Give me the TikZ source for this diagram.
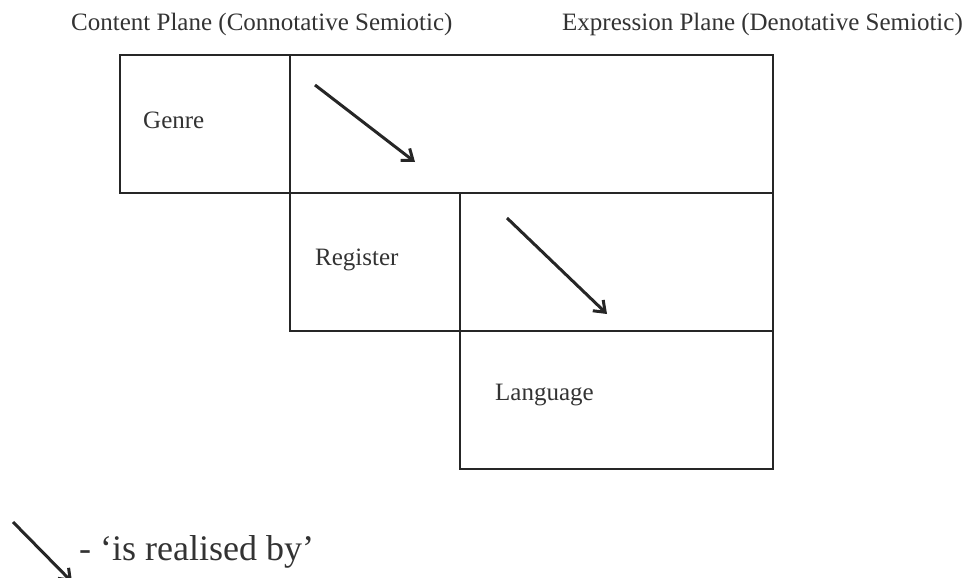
\documentclass[tikz,border=0pt]{standalone}
\usepackage{fontspec}
\setmainfont{Liberation Serif}
\usetikzlibrary{arrows.meta}
\begin{document}
\begin{tikzpicture}[x=1pt,y=-1pt,
  cell/.style={draw=black!85, line width=2pt},
  lbl/.style={font=\fontsize{25}{28}\selectfont, anchor=base west, inner sep=0pt, text=black!80},
  realise/.style={draw=black!85, line width=3pt, -{Straight Barb[length=10pt,width=15pt,line width=3pt]}}]
\useasboundingbox (0,0) rectangle (969,578);
% planes
\node[lbl] (content) at (71,31) {Content Plane (Connotative Semiotic)};
\node[lbl] (expression) at (562,31) {Expression Plane (Denotative Semiotic)};
% strata grid
\draw[cell] (120,55) rectangle (290,193);
\draw[cell] (290,55) rectangle (773,193);
\draw[cell] (290,193) rectangle (460,331);
\draw[cell] (460,193) rectangle (773,331);
\draw[cell] (460,331) rectangle (773,469);
\node[lbl] (genre) at (143,128) {Genre};
\node[lbl] (register) at (315,265) {Register};
\node[lbl] (language) at (495,400) {Language};
% realisation arrows
\coordinate (a1s) at (315,85);
\coordinate (a1e) at (415,162);
\coordinate (a2s) at (507,218);
\coordinate (a2e) at (607,314);
\draw[realise] (a1s) -- (a1e);
\draw[realise] (a2s) -- (a2e);
% key
\coordinate (ks) at (13,522);
\coordinate (ke) at (72,582);
\draw[realise] (ks) -- (ke);
\node[lbl, font=\fontsize{36}{40}\selectfont] (key) at (79,560) {- ‘is realised by’};
\end{tikzpicture}
\end{document}
